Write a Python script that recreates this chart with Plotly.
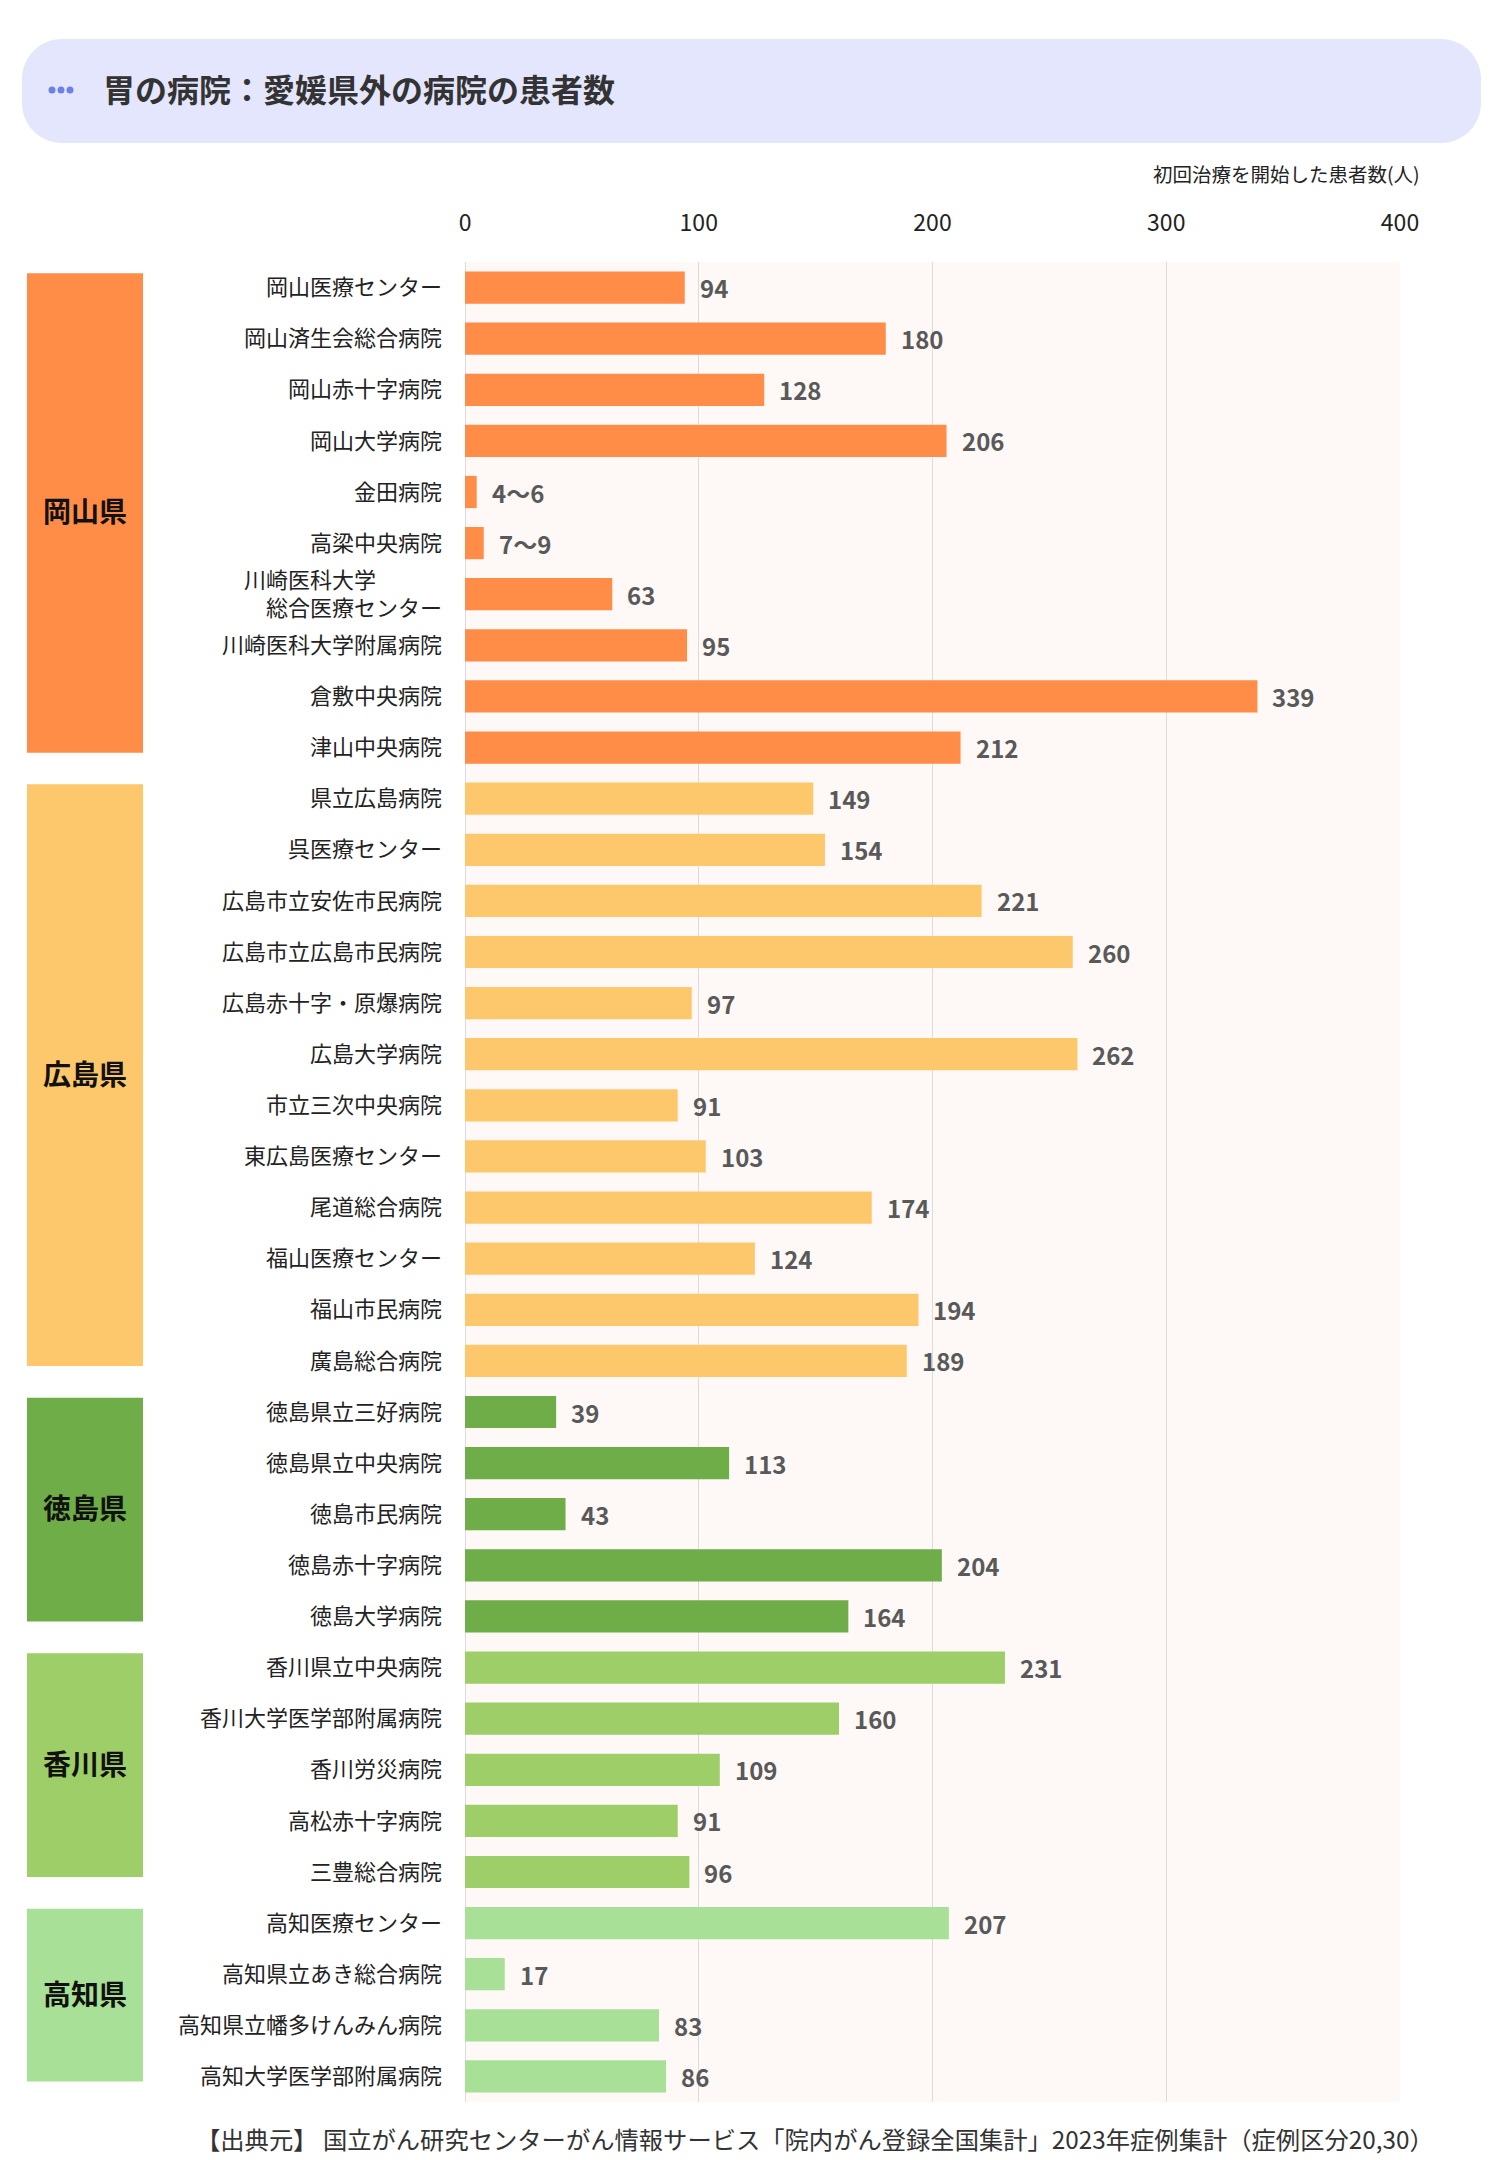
import plotly.graph_objects as go

# --- data ---------------------------------------------------------------
hospitals = [
    "岡山医療センター", "岡山済生会総合病院", "岡山赤十字病院", "岡山大学病院",
    "金田病院", "高梁中央病院", "川崎医科大学　　　<br>総合医療センター",
    "川崎医科大学附属病院", "倉敷中央病院", "津山中央病院",
    "県立広島病院", "呉医療センター", "広島市立安佐市民病院", "広島市立広島市民病院",
    "広島赤十字・原爆病院", "広島大学病院", "市立三次中央病院", "東広島医療センター",
    "尾道総合病院", "福山医療センター", "福山市民病院", "廣島総合病院",
    "徳島県立三好病院", "徳島県立中央病院", "徳島市民病院", "徳島赤十字病院", "徳島大学病院",
    "香川県立中央病院", "香川大学医学部附属病院", "香川労災病院", "高松赤十字病院", "三豊総合病院",
    "高知医療センター", "高知県立あき総合病院", "高知県立幡多けんみん病院", "高知大学医学部附属病院",
]
patients = [
    94, 180, 128, 206, 5, 8, 63, 95, 339, 212,
    149, 154, 221, 260, 97, 262, 91, 103, 174, 124, 194, 189,
    39, 113, 43, 204, 164,
    231, 160, 109, 91, 96,
    207, 17, 83, 86,
]
value_labels = [
    "94", "180", "128", "206", "4〜6", "7〜9", "63", "95", "339", "212",
    "149", "154", "221", "260", "97", "262", "91", "103", "174", "124", "194", "189",
    "39", "113", "43", "204", "164",
    "231", "160", "109", "91", "96",
    "207", "17", "83", "86",
]
prefectures = ["岡山県", "広島県", "徳島県", "香川県", "高知県"]
pref_counts = [10, 12, 5, 5, 4]
x_ticks = [0, 100, 200, 300, 400]

title = "胃の病院：愛媛県外の病院の患者数"
axis_title = "初回治療を開始した患者数(人)"
source = "【出典元】 国立がん研究センターがん情報サービス「院内がん登録全国集計」2023年症例集計（症例区分20,30）"

# --- style --------------------------------------------------------------
pref_colors = {
    "岡山県": "#FF8C47",
    "広島県": "#FDC76B",
    "徳島県": "#6EAD48",
    "香川県": "#9ECE68",
    "高知県": "#A8E098",
}
FONT = "Noto Sans CJK JP"
W, H = 1500, 2160
OFF = 8  # the page body adds 8px around the figure
L, T, PW, PH = 465, 262, 935, 1840  # plot area in page pixels


def px_x(x):
    return (x - L) / PW


def px_y(y):
    return (T + PH - y) / PH


bar_pref = []
for p, n in zip(prefectures, pref_counts):
    bar_pref += [p] * n
bar_colors = [pref_colors[p] for p in bar_pref]

fig = go.Figure(
    go.Bar(
        x=patients,
        y=hospitals,
        orientation="h",
        marker=dict(color=bar_colors, line=dict(width=0)),
        hoverinfo="x+y",
    )
)

# value labels next to the bars
for h, v, lab in zip(hospitals, patients, value_labels):
    fig.add_annotation(
        x=v, y=h, text=lab, showarrow=False, xanchor="left", xshift=13,
        font=dict(family=FONT, size=24, color="#595959", weight="bold"),
    )

# prefecture blocks on the left
start = 0
for p, n in zip(prefectures, pref_counts):
    y0, y1 = start - 0.28, start + n - 1 + 0.1
    fig.add_shape(
        type="rect", xref="paper", yref="y",
        x0=px_x(27), x1=px_x(143), y0=y0, y1=y1,
        fillcolor=pref_colors[p], line=dict(width=0), layer="above",
    )
    fig.add_annotation(
        xref="paper", yref="y", x=px_x(85), y=(y0 + y1) / 2 - 0.05, text=p,
        xanchor="center", yanchor="middle", showarrow=False,
        font=dict(family=FONT, size=28, color="#111111", weight="bold"),
    )
    start += n

# title banner (rounded rectangle)
bx0, bx1, by0, by1, r = 22, 1481, 39, 143, 40
k = 0.5523 * r
pts = [
    ("M", [(bx0 + r, by0)]),
    ("L", [(bx1 - r, by0)]),
    ("C", [(bx1 - r + k, by0), (bx1, by0 + r - k), (bx1, by0 + r)]),
    ("L", [(bx1, by1 - r)]),
    ("C", [(bx1, by1 - r + k), (bx1 - r + k, by1), (bx1 - r, by1)]),
    ("L", [(bx0 + r, by1)]),
    ("C", [(bx0 + r - k, by1), (bx0, by1 - r + k), (bx0, by1 - r)]),
    ("L", [(bx0, by0 + r)]),
    ("C", [(bx0, by0 + r - k), (bx0 + r - k, by0), (bx0 + r, by0)]),
]
path = " ".join(
    cmd + " " + " ".join(f"{px_x(x):.5f},{px_y(y):.5f}" for x, y in p) for cmd, p in pts
) + " Z"
fig.add_shape(type="path", xref="paper", yref="paper", path=path,
              fillcolor="#E4E6FD", line=dict(width=0), layer="below")
for cx in (52, 61, 70):
    fig.add_shape(type="circle", xref="paper", yref="paper",
                  x0=px_x(cx - 3.5), x1=px_x(cx + 3.5), y0=px_y(90 + 3.5), y1=px_y(90 - 3.5),
                  fillcolor="#6B80E8", line=dict(width=0))
fig.add_annotation(
    xref="paper", yref="paper", x=px_x(101), y=px_y(88), xanchor="left", yanchor="middle",
    text=title, showarrow=False, font=dict(family=FONT, size=32, color="#333333", weight="bold"),
)

fig.add_annotation(
    xref="paper", yref="paper", x=px_x(1422), y=px_y(173), xanchor="right", yanchor="middle",
    text=axis_title, showarrow=False, font=dict(family=FONT, size=19.5, color="#222222"),
)
fig.add_annotation(
    xref="paper", yref="paper", x=px_x(1436), y=px_y(2138), xanchor="right", yanchor="middle",
    text=source, showarrow=False, font=dict(family=FONT, size=24.3, color="#333333"),
)

fig.update_layout(
    width=W, height=H,
    margin=dict(l=L - OFF, r=W - (L - OFF) - PW, t=T - OFF, b=H - (T - OFF) - PH),
    paper_bgcolor="white",
    plot_bgcolor="#FEF8F7",
    bargap=0.37,
    showlegend=False,
    font=dict(family=FONT, color="#222222"),
)
fig.update_xaxes(
    side="top", range=[0, 400], tickvals=x_ticks,
    showgrid=True, gridcolor="#DCDCDC", gridwidth=1,
    zeroline=True, zerolinecolor="#DCDCDC", zerolinewidth=1,
    tickfont=dict(family=FONT, size=23, color="#222222"),
    ticks="", ticklabelstandoff=25, fixedrange=True,
)
fig.update_yaxes(
    autorange="reversed", type="category",
    showgrid=False, ticks="", ticklabelstandoff=22,
    tickfont=dict(family=FONT, size=22, color="#222222"), fixedrange=True,
)

fig.write_html("out.html")
